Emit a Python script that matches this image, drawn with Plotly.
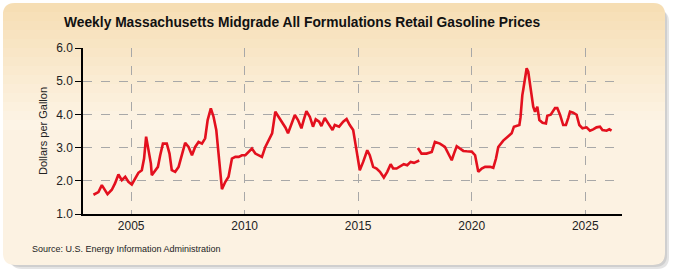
import plotly.graph_objects as go

# ---- data ----
years = [2003.34, 2003.56, 2003.71, 2003.85, 2003.96, 2004.15, 2004.29, 2004.44, 2004.59, 2004.74,
         2004.88, 2005.03, 2005.18, 2005.32, 2005.47, 2005.57, 2005.66, 2005.76, 2005.87, 2005.91,
         2006.06, 2006.18, 2006.28, 2006.40, 2006.57, 2006.69, 2006.79, 2006.94, 2007.09, 2007.24,
         2007.38, 2007.53, 2007.68, 2007.82, 2007.97, 2008.12, 2008.26, 2008.37, 2008.51, 2008.63,
         2008.75, 2008.85, 2008.93, 2009.00, 2009.15, 2009.29, 2009.44, 2009.59, 2009.74, 2009.88,
         2010.03, 2010.18, 2010.32, 2010.47, 2010.62, 2010.76, 2010.91, 2011.06, 2011.21, 2011.35,
         2011.50, 2011.65, 2011.80, 2011.91, 2012.06, 2012.21, 2012.35, 2012.50, 2012.60, 2012.72,
         2012.87, 2013.01, 2013.13, 2013.28, 2013.38, 2013.53, 2013.68, 2013.87, 2013.97, 2014.16,
         2014.34, 2014.49, 2014.63, 2014.78, 2014.90, 2015.00, 2015.07, 2015.22, 2015.40, 2015.51,
         2015.66, 2015.81, 2015.96, 2016.13, 2016.28, 2016.43, 2016.54, 2016.69, 2016.87, 2017.01,
         2017.16, 2017.31, 2017.46, 2017.69, 2017.66,
         2017.63, 2017.79, 2018.01, 2018.24, 2018.38, 2018.60, 2018.82, 2018.97, 2019.12, 2019.22,
         2019.34, 2019.49, 2019.63, 2019.78, 2020.00, 2020.15, 2020.22, 2020.29, 2020.44, 2020.59,
         2020.81, 2020.95, 2021.07, 2021.17, 2021.39, 2021.61, 2021.76, 2021.86, 2021.98, 2022.10,
         2022.15, 2022.20, 2022.23, 2022.27, 2022.36, 2022.42, 2022.49, 2022.54, 2022.60, 2022.65,
         2022.71, 2022.79, 2022.89, 2022.98, 2023.12, 2023.27, 2023.33, 2023.48, 2023.67, 2023.77,
         2023.89, 2024.03, 2024.15, 2024.25, 2024.33, 2024.47, 2024.62, 2024.74, 2024.88, 2025.06,
         2025.21, 2025.35, 2025.50, 2025.65, 2025.76, 2025.94, 2026.06, 2026.16]
prices = [1.58, 1.66, 1.87, 1.72, 1.60, 1.73, 1.92, 2.19, 2.02, 2.12,
          1.97, 1.89, 2.07, 2.24, 2.32, 2.67, 3.33, 2.92, 2.52, 2.17,
          2.32, 2.42, 2.77, 3.12, 3.12, 2.82, 2.32, 2.27, 2.42, 2.77,
          3.14, 3.02, 2.77, 3.02, 3.17, 3.12, 3.28, 3.83, 4.18, 3.93,
          3.53, 2.82, 2.22, 1.75, 1.97, 2.12, 2.67, 2.72, 2.72, 2.77,
          2.77, 2.87, 2.97, 2.82, 2.77, 2.72, 3.02, 3.23, 3.43, 4.08,
          3.91, 3.78, 3.60, 3.43, 3.73, 3.98, 3.83, 3.58, 3.83, 4.10,
          3.93, 3.63, 3.85, 3.78, 3.65, 3.89, 3.73, 3.53, 3.68, 3.63,
          3.78, 3.86, 3.68, 3.53, 3.03, 2.62, 2.32, 2.57, 2.92, 2.77,
          2.42, 2.37, 2.27, 2.10, 2.27, 2.50, 2.37, 2.37, 2.44, 2.50,
          2.47, 2.57, 2.54, 2.61, None,
          2.99, 2.82, 2.82, 2.87, 3.17, 3.12, 3.02, 2.82, 2.62, 2.82,
          3.04, 2.97, 2.90, 2.89, 2.88, 2.77, 2.52, 2.27, 2.37, 2.42,
          2.42, 2.39, 2.67, 3.02, 3.21, 3.33, 3.43, 3.63, 3.65, 3.68,
          3.91, 4.48, 4.58, 4.74, 5.09, 5.39, 5.29, 5.04, 4.74, 4.48,
          4.23, 4.08, 4.23, 3.83, 3.75, 3.73, 3.96, 3.99, 4.19, 4.19,
          3.99, 3.68, 3.68, 3.89, 4.08, 4.05, 3.99, 3.68, 3.58, 3.61,
          3.51, 3.55, 3.61, 3.63, 3.53, 3.51, 3.55, 3.51]

x_ticks = [2005, 2010, 2015, 2020, 2025]
x_tick_text = ["2005", "2010", "2015", "2020", "2025"]
y_ticks = [1.0, 2.0, 3.0, 4.0, 5.0, 6.0]
y_tick_text = ["1.0", "2.0", "3.0", "4.0", "5.0", "6.0"]

# ---- layout geometry (pixels) ----
W, H = 675, 275
L, R, T, B = 83, 622, 48, 214


def px2paper(px, py):
    return (px - L) / (R - L), (B - py) / (B - T)


def rounded_rect(x0, y0, x1, y1, r):
    def P(x, y):
        a, b = px2paper(x, y)
        return f"{a:.5f},{b:.5f}"
    path = (f"M {P(x0 + r, y0)} L {P(x1 - r, y0)} Q {P(x1, y0)} {P(x1, y0 + r)} "
            f"L {P(x1, y1 - r)} Q {P(x1, y1)} {P(x1 - r, y1)} "
            f"L {P(x0 + r, y1)} Q {P(x0, y1)} {P(x0, y1 - r)} "
            f"L {P(x0, y0 + r)} Q {P(x0, y0)} {P(x0 + r, y0)} Z")
    return path


shapes = []
# shadow
for off, col in [(7, "#e4e4e4"), (5, "#cfcfcf"), (3, "#b8b8b8")]:
    shapes.append(dict(type="path", path=rounded_rect(3 + off, 3 + off, 665 + off - 3, 265 + off - 3, 12),
                       xref="paper", yref="paper", fillcolor=col, line=dict(width=0), layer="below"))
# panel with vertical gradient bands
shapes.append(dict(type="path", path=rounded_rect(3, 3, 665, 265, 12), xref="paper", yref="paper",
                   fillcolor="#fcf2e2", line=dict(width=0), layer="below"))
c0 = (246, 222, 180)
c1 = (253, 244, 230)
nb = 14
for i in range(nb):
    t = i / (nb - 1)
    col = tuple(int(round(c0[k] + (c1[k] - c0[k]) * t)) for k in range(3))
    ya = 3 + i * 9
    yb = ya + 10
    if i == 0:
        path = rounded_rect(3, 3, 665, 30, 12)
        shapes.append(dict(type="path", path=path, xref="paper", yref="paper",
                           fillcolor="rgb(%d,%d,%d)" % col, line=dict(width=0), layer="below"))
    else:
        xa, ya_p = px2paper(3, ya)
        xb, yb_p = px2paper(665, yb)
        shapes.append(dict(type="rect", x0=xa, x1=xb, y0=yb_p, y1=ya_p, xref="paper", yref="paper",
                           fillcolor="rgb(%d,%d,%d)" % col, line=dict(width=0), layer="below"))

fig = go.Figure()
fig.add_trace(go.Scatter(x=years, y=prices, mode="lines",
                         line=dict(color="#e3101e", width=2.6),
                         connectgaps=False, hoverinfo="skip"))

tx, ty = px2paper(302, 22)
sx, sy = px2paper(30, 249)
yx, yy = px2paper(43, 131)

fig.update_layout(
    width=W, height=H,
    margin=dict(l=L, r=W - R, t=T, b=H - B, pad=0),
    paper_bgcolor="white",
    plot_bgcolor="white",
    showlegend=False,
    shapes=shapes,
    font=dict(family="Liberation Sans, Arial, sans-serif", color="#222222"),
    xaxis=dict(range=[2002.88, 2026.62], tickvals=x_ticks, ticktext=x_tick_text,
               showgrid=True, gridcolor="#a8a8a8", griddash="dash", gridwidth=1,
               showline=True, linecolor="black", linewidth=1.5, ticks="", zeroline=False,
               tickfont=dict(size=12, color="#222222")),
    yaxis=dict(range=[1.0, 6.0], tickvals=y_ticks, ticktext=y_tick_text,
               showgrid=True, gridcolor="#a8a8a8", griddash="dash", gridwidth=1,
               showline=True, linecolor="black", linewidth=1.5, ticks="outside", ticklen=6,
               tickcolor="black", zeroline=False, tickfont=dict(size=12, color="#222222")),
    annotations=[
        dict(text="<b>Weekly Massachusetts Midgrade All Formulations Retail Gasoline Prices</b>",
             x=tx, y=ty, xref="paper", yref="paper", xanchor="center", yanchor="middle",
             showarrow=False, font=dict(size=13.8, color="#111111")),
        dict(text="Dollars per Gallon", x=yx, y=yy, xref="paper", yref="paper", textangle=-90,
             xanchor="center", yanchor="middle", showarrow=False, font=dict(size=11, color="#222222")),
        dict(text="Source: U.S. Energy Information Administration", x=sx, y=sy, xref="paper", yref="paper",
             xanchor="left", yanchor="middle", showarrow=False, font=dict(size=9, color="#222222")),
    ],
)

fig.write_html("out.html")
